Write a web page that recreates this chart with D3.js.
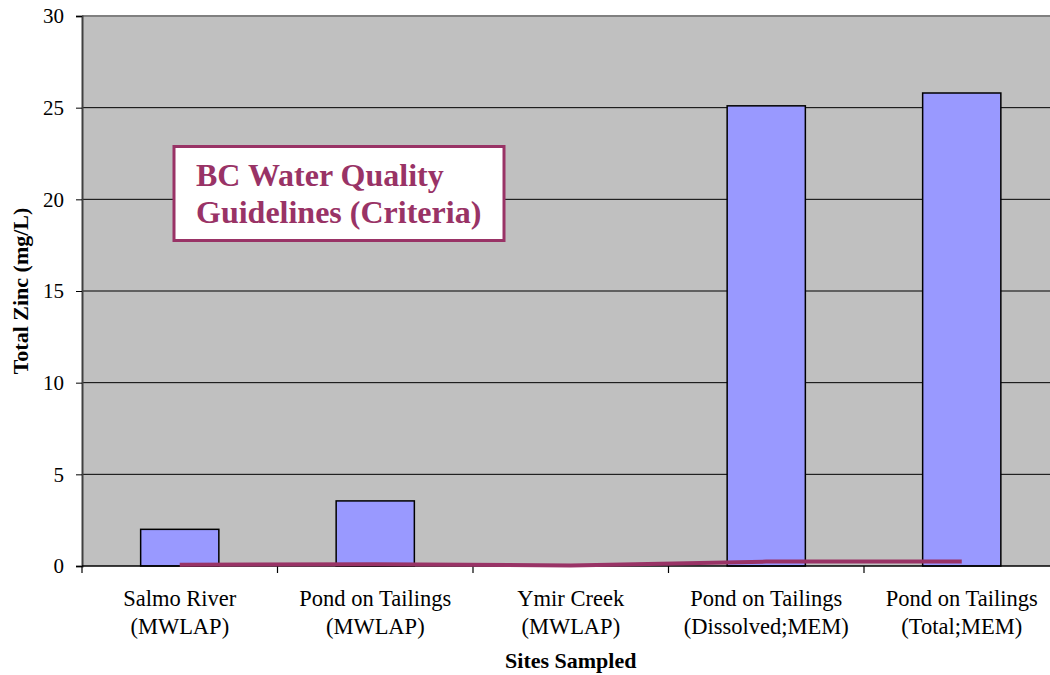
<!DOCTYPE html>
<html>
<head>
<meta charset="utf-8">
<script src="https://cdn.jsdelivr.net/npm/d3@7"></script>
<style>
  html, body { margin: 0; padding: 0; background: #ffffff; overflow: hidden; }
  svg { display: block; }
</style>
</head>
<body>
<script>
// ---- data ----
const categories = [
  ["Salmo River", "(MWLAP)"],
  ["Pond on Tailings", "(MWLAP)"],
  ["Ymir Creek", "(MWLAP)"],
  ["Pond on Tailings", "(Dissolved;MEM)"],
  ["Pond on Tailings", "(Total;MEM)"]
];
const zincValues = [2.0, 3.55, 0, 25.1, 25.8];
const guidelineValues = [0.07, 0.1, 0.03, 0.24, 0.24];
const yTicks = [0, 5, 10, 15, 20, 25, 30];
const yTitle = "Total Zinc (mg/L)";
const xTitle = "Sites Sampled";
const boxLines = ["BC Water Quality", "Guidelines (Criteria)"];

// ---- layout ----
const FONT = "'Liberation Serif'";
const W = 1050, H = 675;
const mLeft = 82, mTop = 16, plotW = 977.5, plotH = 550;

const svg = d3.select("body").append("svg").attr("width", W).attr("height", H)
  .style("font-family", FONT);

const x = d3.scaleBand().domain(d3.range(categories.length)).range([mLeft, mLeft + plotW]).paddingInner(0).paddingOuter(0);
const y = d3.scaleLinear().domain([0, 30]).range([mTop + plotH, mTop]);

// background
svg.append("rect").attr("x", mLeft).attr("y", mTop).attr("width", plotW).attr("height", plotH).attr("fill", "#C0C0C0");

// gridlines
svg.append("g").selectAll("line").data(yTicks.filter(d => d > 0 && d < 30)).join("line")
  .attr("x1", mLeft).attr("x2", mLeft + plotW)
  .attr("y1", d => y(d)).attr("y2", d => y(d))
  .attr("stroke", "#000").attr("stroke-width", 1);

// top border
svg.append("line").attr("x1", mLeft).attr("x2", mLeft + plotW).attr("y1", mTop).attr("y2", mTop)
  .attr("stroke", "#808080").attr("stroke-width", 2);

// bars
const bw = x.bandwidth() * 0.4;
svg.append("g").selectAll("rect").data(zincValues).join("rect")
  .attr("x", (d, i) => x(i) + x.bandwidth() / 2 - bw / 2)
  .attr("y", d => y(d))
  .attr("width", bw)
  .attr("height", d => y(0) - y(d))
  .attr("fill", "#9999FF")
  .attr("stroke", d => d > 0 ? "#000" : "none")
  .attr("stroke-width", 1.5);

// y axis
const yAxis = d3.axisLeft(y).tickValues(yTicks).tickSize(6).tickPadding(12);
const gy = svg.append("g").attr("transform", `translate(${mLeft},0)`).call(yAxis);
gy.select(".domain").attr("stroke", "#404040").attr("stroke-width", 2);
gy.selectAll(".tick line").attr("stroke", "#000");
gy.selectAll(".tick text").style("font-family", FONT).style("font-size", "21px").attr("fill", "#000");

// x axis
const gx = svg.append("g").attr("transform", `translate(0,${mTop + plotH})`);
gx.append("line").attr("x1", mLeft).attr("x2", mLeft + plotW).attr("y1", 0).attr("y2", 0)
  .attr("stroke", "#000").attr("stroke-width", 1.5);
gx.selectAll("line.tk").data(d3.range(categories.length + 1)).join("line").attr("class", "tk")
  .attr("x1", i => mLeft + i * x.bandwidth()).attr("x2", i => mLeft + i * x.bandwidth())
  .attr("y1", 0).attr("y2", 7).attr("stroke", "#000").attr("stroke-width", 1.2);
const lbl = gx.selectAll("text.cat").data(categories).join("text").attr("class", "cat")
  .attr("text-anchor", "middle").style("font-family", FONT).style("font-size", "22.5px").attr("fill", "#000")
  .attr("transform", (d, i) => `translate(${x(i) + x.bandwidth() / 2},40)`);
lbl.selectAll("tspan").data(d => d).join("tspan")
  .attr("x", 0).attr("dy", (d, j) => j === 0 ? 0 : 27.5).text(d => d);

// guideline line
const line = d3.line().x((d, i) => x(i) + x.bandwidth() / 2).y(d => y(d));
svg.append("path").datum(guidelineValues).attr("d", line)
  .attr("fill", "none").attr("stroke", "#993366").attr("stroke-width", 4);

// axis titles
svg.append("text").attr("transform", `translate(28,${mTop + plotH / 2}) rotate(-90)`)
  .attr("text-anchor", "middle").style("font-family", FONT).style("font-size", "22px").attr("font-weight", "bold").text(yTitle);
svg.append("text").attr("x", mLeft + plotW / 2).attr("y", 668)
  .attr("text-anchor", "middle").style("font-family", FONT).style("font-size", "22px").attr("font-weight", "bold").text(xTitle);

// annotation box
svg.append("rect").attr("x", 174).attr("y", 146.5).attr("width", 330).attr("height", 94)
  .attr("fill", "#fff").attr("stroke", "#993366").attr("stroke-width", 3);
svg.append("text").attr("x", 196).attr("y", 186).style("font-family", FONT).style("font-size", "32px").attr("font-weight", "bold")
  .attr("fill", "#993366")
  .selectAll("tspan").data(boxLines).join("tspan")
  .attr("x", 196).attr("dy", (d, i) => i === 0 ? 0 : 37).text(d => d);
</script>
</body>
</html>
